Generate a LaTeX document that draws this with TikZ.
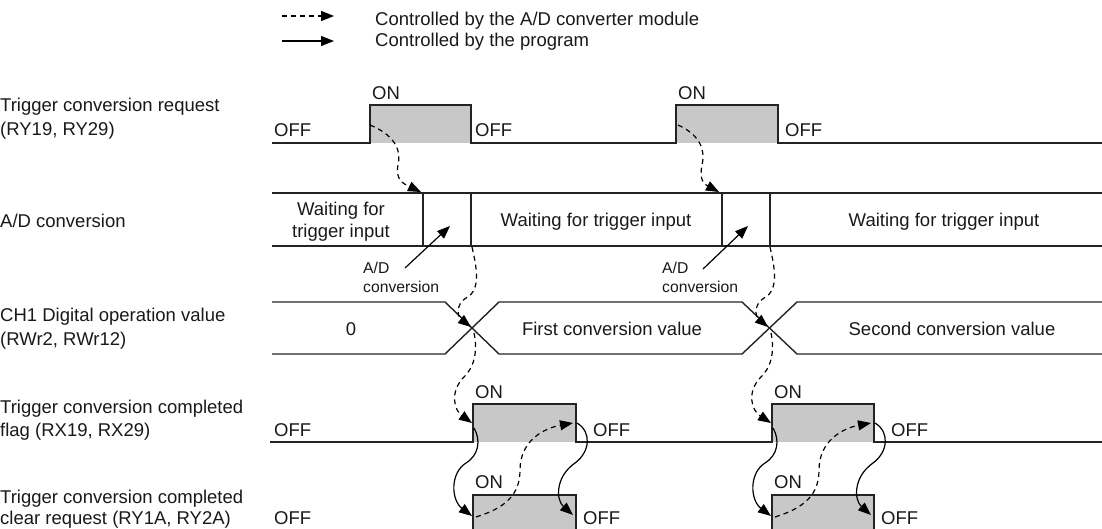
\documentclass[tikz,border=0pt]{standalone}
\usepackage{fontspec}
\setmainfont{Liberation Sans}
\usetikzlibrary{arrows.meta}

\definecolor{pulsegray}{RGB}{200,200,200}
\definecolor{linegray}{RGB}{35,35,35}

\begin{document}
\begin{tikzpicture}[x=1pt,y=-1pt,
    sigline/.style={line width=1.4pt, draw=linegray},
    pulsefill/.style={fill=pulsegray},
    txt/.style={font=\fontsize{18.5}{22}\selectfont, inner sep=0pt, text=black!90},
    smalltxt/.style={font=\fontsize{15.7}{19}\selectfont, inner sep=0pt, text=black!90},
    modarrow/.style={-{Triangle[length=13pt,width=10pt]}, line width=1.2pt, dash pattern=on 5pt off 4pt},
    progarrow/.style={-{Triangle[length=13pt,width=10pt]}, line width=1.2pt}]
  \useasboundingbox (0,0) rectangle (1102,529);

  % Legend
  \coordinate (lgmodA) at (282,16);
  \coordinate (lgmodB) at (334,16);
  \draw[modarrow] (lgmodA) -- (lgmodB);
  \node[txt, anchor=base west] (lgmod) at (375,26) {Controlled by the A/D converter module};
  \coordinate (lgprogA) at (282,41);
  \coordinate (lgprogB) at (334,41);
  \draw[progarrow] (lgprogA) -- (lgprogB);
  \node[txt, anchor=base west] (lgprog) at (375,47) {Controlled by the program};

  % Row labels
  \node[txt, anchor=base west] (reqA) at (0,112) {Trigger conversion request};
  \node[txt, anchor=base west] (reqB) at (0,136) {(RY19, RY29)};
  \node[txt, anchor=base west] (adc) at (0,228) {A/D conversion};
  \node[txt, anchor=base west] (valA) at (0,321) {CH1 Digital operation value};
  \node[txt, anchor=base west] (valB) at (0,345) {(RWr2, RWr12)};
  \node[txt, anchor=base west] (flagA) at (0,413) {Trigger conversion completed};
  \node[txt, anchor=base west] (flagB) at (0,436) {flag (RX19, RX29)};
  \node[txt, anchor=base west] (clrA) at (0,503) {Trigger conversion completed};
  \node[txt, anchor=base west] (clrB) at (0,524) {clear request (RY1A, RY2A)};

  % Trigger conversion request
  \fill[pulsefill] (370,105) rectangle (471,143);
  \fill[pulsefill] (676,105) rectangle (778,143);
  \draw[sigline] (272,143) -- (370,143) -- (370,105) -- (471,105) -- (471,143)
    -- (676,143) -- (676,105) -- (778,105) -- (778,143) -- (1102,143);
  \node[txt, anchor=base west] (reqoff1) at (274,137) {OFF};
  \node[txt, anchor=base west] (reqon1) at (372,100) {ON};
  \node[txt, anchor=base west] (reqoff2) at (475,137) {OFF};
  \node[txt, anchor=base west] (reqon2) at (678,100) {ON};
  \node[txt, anchor=base west] (reqoff3) at (785,137) {OFF};

  % A/D conversion
  \draw[sigline] (272,193) -- (1102,193);
  \draw[sigline] (272,246) -- (1102,246);
  \draw[sigline] (423,193) -- (423,246);
  \draw[sigline] (471,193) -- (471,246);
  \draw[sigline] (722,193) -- (722,246);
  \draw[sigline] (770,193) -- (770,246);
  \node[txt, anchor=base] (waitA) at (341,216) {Waiting for};
  \node[txt, anchor=base] (waitB) at (341,238) {trigger input};
  \node[txt, anchor=base] (wait2) at (596,227) {Waiting for trigger input};
  \node[txt, anchor=base] (wait3) at (944,227) {Waiting for trigger input};

  \node[smalltxt, anchor=base west] (convA1) at (363,273) {A/D};
  \node[smalltxt, anchor=base west] (convA2) at (363,292) {conversion};
  \node[smalltxt, anchor=base west] (convB1) at (662,273) {A/D};
  \node[smalltxt, anchor=base west] (convB2) at (662,292) {conversion};
  \coordinate (convAs) at (405,268);
  \coordinate (convAt) at (450,226);
  \coordinate (convBs) at (703,269);
  \coordinate (convBt) at (748,226);
  \draw[progarrow] (convAs) -- (convAt);
  \draw[progarrow] (convBs) -- (convBt);

  % CH1 Digital operation value
  \draw[sigline] (272,302) -- (445,302) -- (499,354) -- (742,354) -- (797,302) -- (1102,302);
  \draw[sigline] (272,354) -- (445,354) -- (499,302) -- (742,302) -- (797,354) -- (1102,354);
  \node[txt, anchor=base] (val0) at (351,335) {0};
  \node[txt, anchor=base] (val1) at (612,335) {First conversion value};
  \node[txt, anchor=base] (val2) at (952,335) {Second conversion value};

  % Trigger conversion completed flag
  \fill[pulsefill] (473,404) rectangle (576,442);
  \fill[pulsefill] (772,404) rectangle (874,442);
  \draw[sigline] (270,442) -- (473,442) -- (473,404) -- (576,404) -- (576,442)
    -- (772,442) -- (772,404) -- (874,404) -- (874,442) -- (1102,442);
  \node[txt, anchor=base west] (flagoff1) at (274,436) {OFF};
  \node[txt, anchor=base west] (flagon1) at (475,398) {ON};
  \node[txt, anchor=base west] (flagoff2) at (593,436) {OFF};
  \node[txt, anchor=base west] (flagon2) at (774,398) {ON};
  \node[txt, anchor=base west] (flagoff3) at (891,436) {OFF};

  % Trigger conversion completed clear request
  \fill[pulsefill] (473,495) rectangle (576,540);
  \fill[pulsefill] (772,495) rectangle (874,540);
  \draw[sigline] (270,533) -- (473,533) -- (473,495) -- (576,495) -- (576,533)
    -- (772,533) -- (772,495) -- (874,495) -- (874,533) -- (1102,533);
  \node[txt, anchor=base west] (clroff1) at (274,524) {OFF};
  \node[txt, anchor=base west] (clron1) at (475,488) {ON};
  \node[txt, anchor=base west] (clroff2) at (583,524) {OFF};
  \node[txt, anchor=base west] (clron2) at (774,488) {ON};
  \node[txt, anchor=base west] (clroff3) at (881,524) {OFF};

  % Module side: request -> conversion -> value -> flag
  \coordinate (req1) at (370,125);
  \coordinate (adtop1) at (421,192);
  \coordinate (adend1) at (472,247);
  \coordinate (cross1) at (471,327);
  \coordinate (crossb1) at (474,333);
  \coordinate (flagup1) at (472,423);
  \draw[modarrow] (req1) .. controls (392,134) and (402,148) .. (398,165)
    .. controls (395,180) and (404,184) .. (adtop1);
  \draw[modarrow] (adend1) .. controls (476,265) and (482,290) .. (466,298)
    .. controls (456,304) and (457,316) .. (cross1);
  \draw[modarrow] (crossb1) .. controls (478,352) and (474,368) .. (463,378)
    .. controls (450,392) and (454,410) .. (flagup1);

  \coordinate (req2) at (678,125);
  \coordinate (adtop2) at (719,192);
  \coordinate (adend2) at (770,247);
  \coordinate (cross2) at (768,327);
  \coordinate (crossb2) at (771,333);
  \coordinate (flagup2) at (771,423);
  \draw[modarrow] (req2) .. controls (698,134) and (706,148) .. (702,165)
    .. controls (699,180) and (704,184) .. (adtop2);
  \draw[modarrow] (adend2) .. controls (774,265) and (780,290) .. (764,298)
    .. controls (754,304) and (755,316) .. (cross2);
  \draw[modarrow] (crossb2) .. controls (775,352) and (771,368) .. (760,378)
    .. controls (747,392) and (751,410) .. (flagup2);

  % Handshake between flag and clear request
  \coordinate (flagrise1) at (474,428);
  \coordinate (clrrise1) at (472,516);
  \coordinate (clrin1) at (476,517);
  \coordinate (flagfall1) at (573,423);
  \coordinate (flagout1) at (577,423);
  \coordinate (clrfall1) at (573,515);
  \draw[progarrow] (flagrise1) .. controls (481,440) and (479,455) .. (466,463)
    .. controls (450,473) and (451,500) .. (clrrise1);
  \draw[modarrow] (clrin1) .. controls (505,508) and (520,495) .. (520,470)
    .. controls (520,440) and (545,428) .. (flagfall1);
  \draw[progarrow] (flagout1) .. controls (592,432) and (590,452) .. (575,463)
    .. controls (555,477) and (556,500) .. (clrfall1);

  \coordinate (flagrise2) at (773,428);
  \coordinate (clrrise2) at (771,516);
  \coordinate (clrin2) at (775,517);
  \coordinate (flagfall2) at (871,423);
  \coordinate (flagout2) at (875,423);
  \coordinate (clrfall2) at (871,515);
  \draw[progarrow] (flagrise2) .. controls (780,440) and (778,455) .. (765,463)
    .. controls (749,473) and (750,500) .. (clrrise2);
  \draw[modarrow] (clrin2) .. controls (804,508) and (819,495) .. (819,470)
    .. controls (819,440) and (844,428) .. (flagfall2);
  \draw[progarrow] (flagout2) .. controls (890,432) and (888,452) .. (873,463)
    .. controls (853,477) and (854,500) .. (clrfall2);
\end{tikzpicture}
\end{document}
